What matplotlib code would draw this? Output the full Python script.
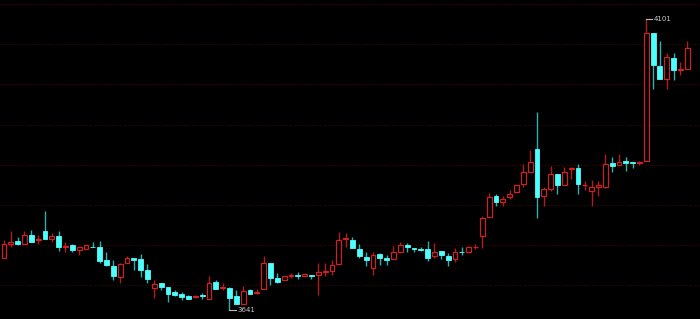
import numpy as np
import matplotlib
matplotlib.use("Agg")
import matplotlib.pyplot as plt

# daily candles
opens = [3724, 3745, 3750, 3746, 3760, 3752, 3766, 3753, 3758, 3741,
         3744, 3736, 3738, 3741, 3740, 3720, 3711, 3693, 3715, 3723,
         3721, 3704, 3675, 3683, 3677, 3669, 3666, 3663, 3662, 3664,
         3659, 3685, 3675, 3675, 3663, 3650, 3672, 3668, 3674, 3715,
         3691, 3688, 3695, 3697, 3695, 3697, 3696, 3701, 3703, 3713,
         3753, 3752, 3737, 3725, 3708, 3729, 3723, 3721, 3732, 3744,
         3739, 3737, 3738, 3726, 3734, 3727, 3722, 3733, 3733, 3740,
         3758, 3788, 3822, 3812, 3819, 3828, 3840, 3860, 3895, 3822,
         3832, 3856, 3839, 3864, 3865, 3838, 3830, 3836, 3836, 3873,
         3870, 3876, 3875, 3874, 3876, 4079, 4027, 4006, 4039, 4021,
         4022]
closes = [3745, 3749, 3745, 3760, 3749, 3753, 3754, 3758, 3741, 3742,
          3736, 3740, 3744, 3740, 3719, 3712, 3694, 3714, 3724, 3720,
          3704, 3690, 3682, 3677, 3667, 3665, 3662, 3659, 3663, 3663,
          3683, 3674, 3677, 3660, 3650, 3671, 3667, 3670, 3715, 3691,
          3686, 3694, 3697, 3694, 3698, 3694, 3701, 3703, 3712, 3752,
          3755, 3739, 3726, 3720, 3728, 3724, 3720, 3732, 3744, 3740,
          3738, 3736, 3724, 3732, 3728, 3720, 3733, 3732, 3740, 3741,
          3786, 3820, 3812, 3817, 3824, 3838, 3860, 3875, 3820, 3832,
          3856, 3839, 3860, 3865, 3840, 3839, 3836, 3839, 3872, 3869,
          3875, 3874, 3873, 3875, 4079, 4029, 4006, 4041, 4021, 4022,
          4055]
highs = [3752, 3766, 3757, 3766, 3768, 3760, 3798, 3763, 3766, 3749,
         3745, 3741, 3744, 3749, 3750, 3732, 3720, 3716, 3726, 3723,
         3729, 3714, 3688, 3683, 3677, 3673, 3670, 3665, 3665, 3668,
         3695, 3688, 3684, 3678, 3673, 3679, 3674, 3674, 3726, 3715,
         3699, 3694, 3699, 3701, 3699, 3697, 3716, 3715, 3720, 3764,
         3762, 3757, 3745, 3732, 3733, 3731, 3728, 3742, 3749, 3747,
         3739, 3741, 3750, 3747, 3734, 3731, 3739, 3741, 3743, 3745,
         3789, 3826, 3825, 3822, 3831, 3838, 3872, 3894, 3955, 3836,
         3869, 3856, 3868, 3867, 3872, 3845, 3847, 3845, 3888, 3883,
         3888, 3883, 3875, 3876, 4101, 4079, 4067, 4048, 4048, 4034,
         4067]
lows = [3724, 3741, 3744, 3746, 3748, 3746, 3754, 3748, 3734, 3732,
        3733, 3728, 3738, 3740, 3716, 3710, 3688, 3683, 3715, 3704,
        3693, 3683, 3660, 3672, 3653, 3663, 3657, 3658, 3660, 3658,
        3659, 3674, 3673, 3641, 3650, 3650, 3666, 3667, 3674, 3681,
        3684, 3688, 3692, 3690, 3694, 3690, 3664, 3695, 3696, 3713,
        3741, 3739, 3723, 3711, 3697, 3712, 3712, 3721, 3732, 3732,
        3732, 3735, 3719, 3723, 3722, 3711, 3717, 3728, 3731, 3738,
        3739, 3788, 3806, 3806, 3817, 3828, 3835, 3860, 3786, 3806,
        3830, 3824, 3838, 3848, 3824, 3831, 3806, 3821, 3834, 3860,
        3870, 3861, 3865, 3870, 3876, 3990, 4006, 3990, 4005, 4013,
        4022]

RED = '#cc2222'
RED_WICK = '#b01c1c'
CYAN = '#4dffff'
CYAN_WICK = '#2ab0b0'

def main():
    o = np.array(opens)
    c = np.array(closes)
    h = np.array(highs)
    l = np.array(lows)
    x = np.arange(len(o))
    up = c >= o

    fig = plt.figure(figsize=(7, 3.19), dpi=100, facecolor='black')
    ax = fig.add_axes([0, 0, 1, 1])
    ax.set_facecolor('black')

    # wicks behind, bodies on top (red ones hollow)
    ax.vlines(x[up], l[up], h[up], color=RED_WICK, lw=1, zorder=2)
    ax.vlines(x[~up], l[~up], h[~up], color=CYAN_WICK, lw=1, zorder=2)
    ax.bar(x[up], c[up] - o[up], bottom=o[up], width=0.72,
           facecolor='black', edgecolor=RED, linewidth=0.9, zorder=3)
    ax.bar(x[~up], o[~up] - c[~up], bottom=c[~up], width=0.72,
           facecolor=CYAN, edgecolor=CYAN, linewidth=0.6, zorder=3)

    # max / min labels
    imax = int(np.argmax(h))
    imin = int(np.argmin(l))
    for i, v in [(imax, h[imax]), (imin, l[imin])]:
        ax.plot([x[i], x[i] + 0.9], [v, v], color='#bbbbbb', lw=0.8, zorder=4)
        ax.text(x[i] + 1.1, v, '%d' % v, color='#c8c8c8', fontsize=5,
                va='center', ha='left', zorder=4)

    ax.set_xlim(-0.585, 101.86)
    ax.set_ylim(3626.7, 4131.5)
    ax.set_yticks(4125 - 63.6 * np.arange(8))
    ax.grid(axis='y', color='#400808', linestyle=(0, (1, 1.5)), linewidth=0.8)
    ax.set_axisbelow(True)
    ax.tick_params(left=False, bottom=False, labelleft=False, labelbottom=False)
    for s in ax.spines.values():
        s.set_visible(False)

    fig.savefig('out.png', dpi=100, facecolor='black')


if __name__ == "__main__":
    main()
